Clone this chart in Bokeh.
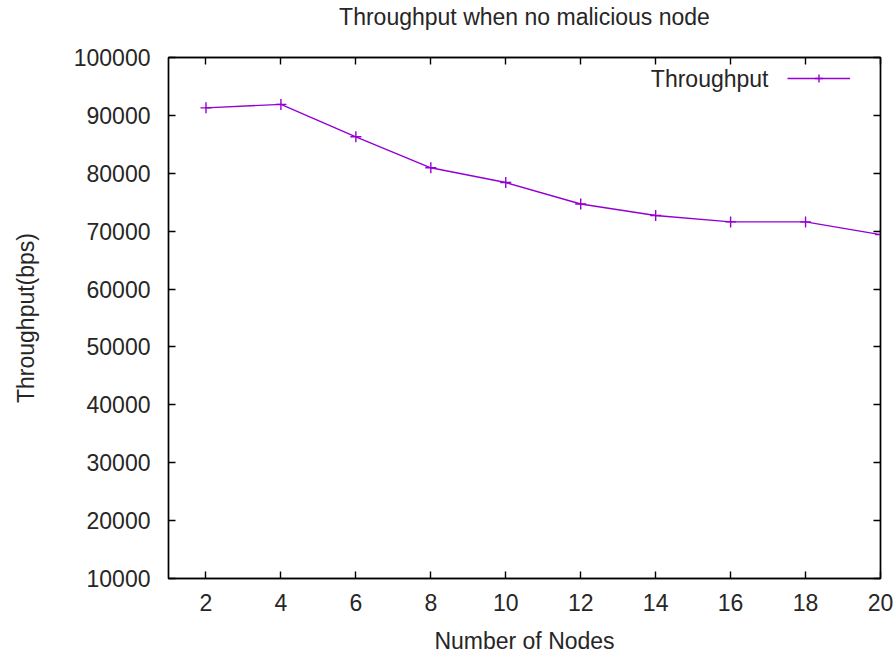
from bokeh.plotting import figure
from bokeh.models import (ColumnDataSource, LinearAxis, FixedTicker, Range1d,
                          Legend, LegendItem, Label, Title, BasicTickFormatter,
                          CustomJSTickFormatter)
from bokeh.embed import file_html
from bokeh.resources import INLINE

# ---- data ----
nodes = [2, 4, 6, 8, 10, 12, 14, 16, 18, 20]
throughput = [91300, 91900, 86300, 80950, 78400, 74700, 72700, 71600, 71600, 69400]
x_ticks = [2, 4, 6, 8, 10, 12, 14, 16, 18, 20]
y_ticks = [10000, 20000, 30000, 40000, 50000, 60000, 70000, 80000, 90000, 100000]

title_text = "Throughput when no malicious node"
x_label = "Number of Nodes"
y_label = "Throughput(bps)"
series_name = "Throughput"

FONT = "Liberation Sans"
TXT = "#262626"
PURPLE = "#9400D3"
FS = "23px"

src = ColumnDataSource(dict(x=nodes, y=throughput))

p = figure(width=896, height=659, output_backend="svg", toolbar_location=None,
           x_range=Range1d(1, 20), y_range=Range1d(10000, 100000),
           min_border_left=168, min_border_right=16, min_border_top=57,
           min_border_bottom=81)
p.background_fill_color = "white"
p.border_fill_color = "white"
p.grid.visible = False
p.outline_line_color = "black"
p.outline_line_width = 1.4

for ax in (p.xaxis[0], p.yaxis[0]):
    ax.axis_line_color = "black"
    ax.axis_line_width = 1.4
    ax.major_tick_line_color = "black"
    ax.major_tick_line_width = 1.4
    ax.major_tick_in = 7
    ax.major_tick_out = 0
    ax.minor_tick_line_color = None
    ax.major_label_text_font = FONT
    ax.major_label_text_font_size = FS
    ax.major_label_text_color = TXT
    ax.axis_label_text_font = FONT
    ax.axis_label_text_font_size = FS
    ax.axis_label_text_font_style = "normal"
    ax.axis_label_text_color = TXT

p.xaxis[0].ticker = FixedTicker(ticks=x_ticks)
p.yaxis[0].ticker = FixedTicker(ticks=y_ticks)
p.yaxis[0].formatter = BasicTickFormatter(use_scientific=False)
p.yaxis[0].axis_label = y_label
p.xaxis[0].major_label_standoff = 15
p.yaxis[0].major_label_standoff = 18
p.yaxis[0].axis_label_standoff = 32

# mirror axes (ticks only)
blank = CustomJSTickFormatter(code="return ''")
top = LinearAxis(ticker=FixedTicker(ticks=x_ticks), formatter=blank)
right = LinearAxis(ticker=FixedTicker(ticks=y_ticks), formatter=blank)
for ax in (top, right):
    ax.axis_line_color = "black"
    ax.axis_line_width = 1.4
    ax.major_tick_line_color = "black"
    ax.major_tick_line_width = 1.4
    ax.major_tick_in = 7
    ax.major_tick_out = 0
    ax.minor_tick_line_color = None
    ax.major_label_standoff = 0
p.add_layout(right, "right")
p.add_layout(top, "above")

# chart title (top) and x-axis title (bottom) as Title panels
p.add_layout(Title(text=title_text, align="center",
                   text_font=FONT, text_font_size=FS, text_font_style="normal",
                   text_color=TXT, standoff=0,
                   padding=dict(top=0, bottom=28, left=0, right=0)), "above")
p.add_layout(Title(text=x_label, align="center",
                   text_font=FONT, text_font_size=FS, text_font_style="normal",
                   text_color=TXT, standoff=0,
                   padding=dict(top=12, bottom=0, left=0, right=0)), "below")

ln = p.line("x", "y", source=src, line_color=PURPLE, line_width=1.4)
sc = p.scatter("x", "y", source=src, marker="cross", size=11,
               line_color=PURPLE, line_width=1.4)

legend = Legend(items=[LegendItem(label=" ", renderers=[ln, sc])],
                location=(619, 490), orientation="vertical",
                glyph_width=63, glyph_height=20, label_width=0,
                label_standoff=0, label_text_font_size="1px",
                padding=0, spacing=0, margin=0,
                border_line_alpha=0, background_fill_alpha=0)
p.add_layout(legend, "center")

p.add_layout(Label(x=600, y=500, x_units="screen", y_units="screen",
                   text=series_name, text_align="right", text_baseline="middle",
                   text_font=FONT, text_font_size=FS, text_color=TXT))

open("out.html", "w").write(file_html(p, INLINE))
